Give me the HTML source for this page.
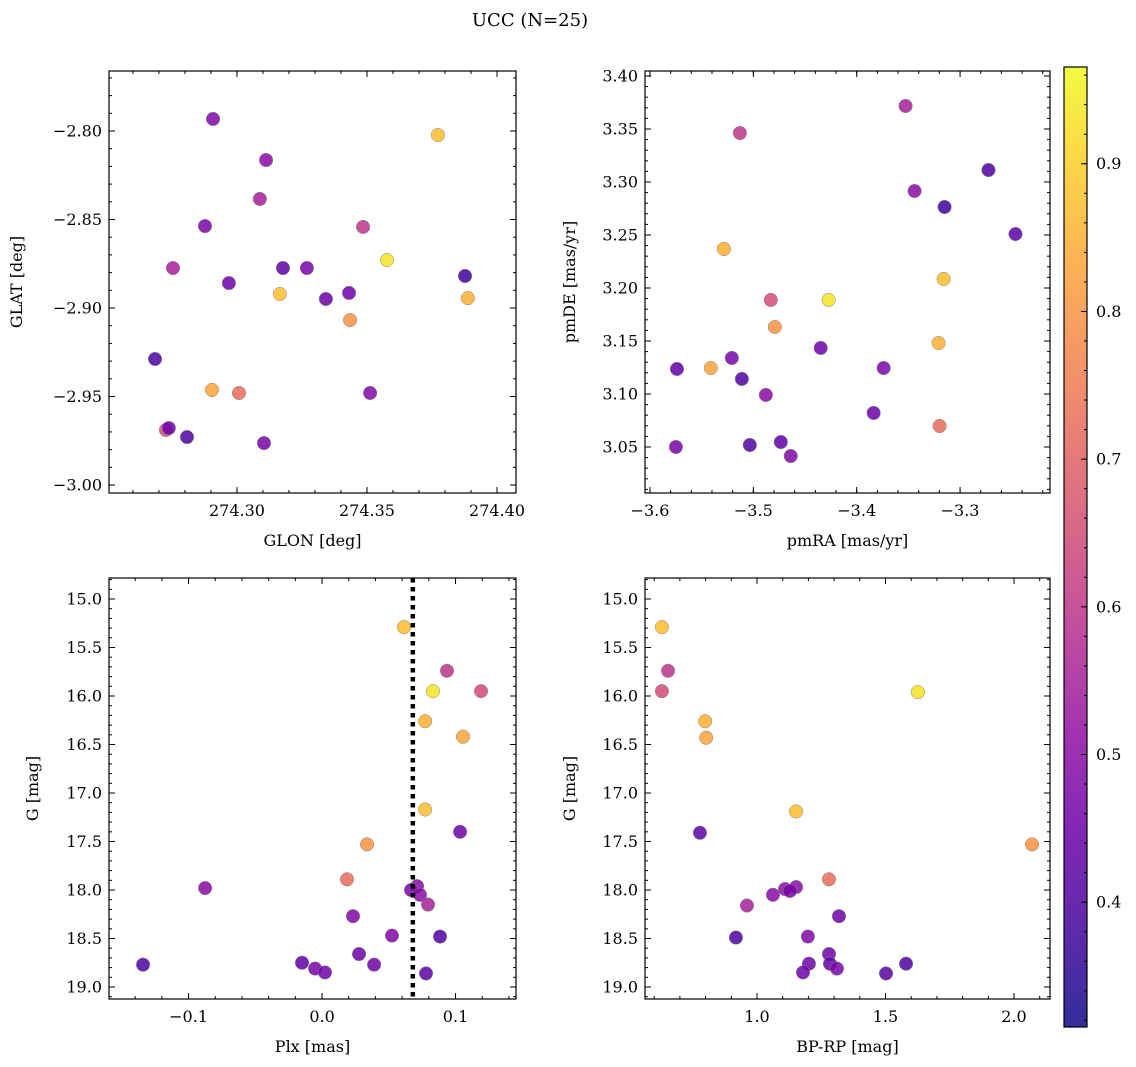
<!DOCTYPE html>
<html><head><meta charset="utf-8"><style>
html,body{margin:0;padding:0;background:#fff;}
svg{display:block;font-family:"DejaVu Serif","Liberation Serif",serif;}
</style></head><body>
<svg id="chart" width="1136" height="1067" viewBox="0 0 1136 1067" xmlns="http://www.w3.org/2000/svg">
<text x="530" y="26" font-size="18" text-anchor="middle">UCC (N=25)</text>
<g id="plots"></g>
</svg>
<script>
// Panel 1: GLON / GLAT
const glon=[274.2908,274.3112,274.3773,274.3088,274.2877,274.3485,274.3577,274.2754,274.3177,274.3269,274.3877,274.2969,274.3165,274.3342,274.3431,274.3888,274.3435,274.2685,274.2904,274.3008,274.3512,274.2727,274.2738,274.2808,274.3104];
const glat=[-2.7932,-2.8164,-2.8023,-2.8384,-2.8537,-2.8542,-2.8729,-2.8774,-2.8774,-2.8774,-2.8819,-2.8859,-2.8921,-2.8949,-2.8915,-2.8944,-2.9068,-2.9288,-2.9463,-2.9480,-2.9480,-2.9689,-2.9678,-2.9729,-2.9763];
const prob1=[0.48,0.50,0.87,0.55,0.47,0.60,0.93,0.55,0.43,0.47,0.38,0.45,0.87,0.45,0.45,0.85,0.80,0.40,0.83,0.72,0.48,0.65,0.45,0.40,0.47];
// Panel 2: pmRA / pmDE
const pmra=[-3.3527,-3.5130,-3.2725,-3.3440,-3.3150,-3.2464,-3.5285,-3.3159,-3.4271,-3.4831,-3.4792,-3.4348,-3.3208,-3.5208,-3.5739,-3.5411,-3.3739,-3.5111,-3.4879,-3.3836,-3.3198,-3.5749,-3.5034,-3.4734,-3.4638];
const pmde=[3.3717,3.3462,3.3113,3.2915,3.2764,3.2509,3.2368,3.2085,3.1887,3.1887,3.1632,3.1434,3.1481,3.1340,3.1236,3.1245,3.1245,3.1142,3.0991,3.0821,3.0698,3.0500,3.0519,3.0547,3.0415];
const prob2=[0.55,0.60,0.40,0.50,0.38,0.42,0.85,0.87,0.93,0.65,0.80,0.45,0.85,0.47,0.43,0.83,0.47,0.40,0.50,0.45,0.72,0.47,0.40,0.43,0.48];
// Panel 3: Plx / G
const plx=[0.0614,0.0936,0.0831,0.1191,0.0772,0.1056,0.0772,0.1034,0.0337,0.0187,-0.0876,0.0712,0.0667,0.0734,0.0794,0.0232,0.0884,0.0524,0.0277,0.0390,-0.0150,-0.0052,0.0022,-0.1341,0.0779];
const g3=[15.29,15.74,15.95,15.95,16.26,16.42,17.17,17.40,17.53,17.89,17.98,17.96,18.00,18.05,18.15,18.27,18.48,18.47,18.66,18.77,18.75,18.81,18.85,18.77,18.86];
const prob3=[0.87,0.60,0.93,0.65,0.85,0.83,0.87,0.45,0.80,0.72,0.50,0.50,0.47,0.50,0.55,0.48,0.40,0.48,0.45,0.45,0.43,0.47,0.45,0.40,0.42];
const plxLine=0.068;
// Panel 4: BP-RP / G
const bprp=[0.630,0.654,0.630,1.626,0.798,0.802,1.152,0.778,2.070,1.280,1.109,1.152,1.062,1.128,0.961,1.319,1.198,0.918,1.280,1.202,1.284,1.311,1.179,1.580,1.502];
const g4=[15.29,15.74,15.95,15.96,16.26,16.43,17.19,17.41,17.53,17.89,17.99,17.97,18.05,18.01,18.16,18.27,18.48,18.49,18.66,18.76,18.76,18.81,18.85,18.76,18.86];
const prob4=[0.87,0.60,0.65,0.93,0.85,0.83,0.87,0.43,0.80,0.72,0.50,0.50,0.50,0.47,0.55,0.45,0.48,0.40,0.45,0.45,0.43,0.47,0.45,0.40,0.42];
// Tick labels
const ticksGlon=[274.30,274.35,274.40];
const ticksGlat=[-2.80,-2.85,-2.90,-2.95,-3.00];
const ticksPmra=[-3.6,-3.5,-3.4,-3.3];
const ticksPmde=[3.05,3.10,3.15,3.20,3.25,3.30,3.35,3.40];
const ticksPlx=[-0.1,0.0,0.1];
const ticksG=[15.0,15.5,16.0,16.5,17.0,17.5,18.0,18.5,19.0];
const ticksBprp=[1.0,1.5,2.0];
const ticksCbar=[0.4,0.5,0.6,0.7,0.8,0.9];
const vmin=0.3155, vmax=0.9655;

const NS="http://www.w3.org/2000/svg";
const root=document.getElementById('plots');
function el(tag,attrs,parent){const e=document.createElementNS(NS,tag);for(const k in attrs)e.setAttribute(k,attrs[k]);(parent||root).appendChild(e);return e;}
const stops=["#0d0887","#41049d","#6a00a8","#8f0da4","#b12a90","#cc4778","#e16462","#f2844b","#fca636","#fcce25","#f0f921"];
function hex(h){return [1,3,5].map(i=>parseInt(h.substr(i,2),16));}
function plasma(t){t=Math.max(0,Math.min(1,t));const f=t*10,i=Math.min(9,Math.floor(f)),r=f-i;const a=hex(stops[i]),b=hex(stops[i+1]);return 'rgb('+a.map((v,k)=>Math.round(v+(b[k]-v)*r)).join(',')+')';}
function fmt(v,d){const s=v.toFixed(d);return s.replace('-','\u2212');}

function panel(name,box,xd,yd,xs,ys,probs,xt,yt,xdec,ydec,xminor,yminor,xlabel,ylabel,ylx){
  const g=el('g',{});
  
  
  const [L,T,R,B]=box;
  const sx=v=>L+(v-xd[0])/(xd[1]-xd[0])*(R-L);
  const sy=v=>T+(v-yd[0])/(yd[1]-yd[0])*(B-T);
  const tk=(x1,y1,x2,y2)=>el('line',{x1,y1,x2,y2,stroke:'#000','stroke-width':1},g);
  const lo=Math.min(...xd),hi=Math.max(...xd);
  for(let k=Math.ceil(lo/xminor-1e-6);k*xminor<=hi;k++){const x=sx(k*xminor);tk(x,B,x,B-3);tk(x,T,x,T+3);}
  const lo2=Math.min(...yd),hi2=Math.max(...yd);
  for(let k=Math.ceil(lo2/yminor-1e-6);k*yminor<=hi2;k++){const y=sy(k*yminor);tk(L,y,L+3,y);tk(R,y,R-3,y);}
  xt.forEach(v=>{const x=sx(v);tk(x,B,x,B-6);tk(x,T,x,T+6);
    const t=el('text',{x:x,y:B+23,'font-size':16,'text-anchor':'middle'},g);t.textContent=fmt(v,xdec);
    });
  yt.forEach(v=>{const y=sy(v);tk(L,y,L+6,y);tk(R,y,R-6,y);
    const t=el('text',{x:L-7,y:y+5.5,'font-size':16,'text-anchor':'end'},g);t.textContent=fmt(v,ydec);
    });
  const xl=el('text',{x:(L+R)/2,y:B+53,'font-size':16,'text-anchor':'middle'},g);xl.textContent=xlabel;
  
  const ym=(T+B)/2;
  const yl=el('text',{x:ylx,y:ym,'font-size':16,'text-anchor':'middle',transform:'rotate(-90 '+ylx+' '+ym+')'},g);yl.textContent=ylabel;
  
  xs.forEach((v,i)=>{const c=el('circle',{cx:sx(v),cy:sy(ys[i]),r:6.8,fill:plasma((probs[i]-vmin)/(vmax-vmin)),'fill-opacity':0.85,stroke:'#888','stroke-width':0.5},g);
    });
  const fr=el('rect',{x:L,y:T,width:R-L,height:B-T,fill:'none',stroke:'#000','stroke-width':1.2},g);
  
  return {g,sx,sy};
}
panel('glon-glat-panel',[109,71,516,493],[274.2508,274.4073],[-2.7661,-3.0045],glon,glat,prob1,ticksGlon,ticksGlat,2,2,0.01,0.01,'GLON [deg]','GLAT [deg]',22);
panel('pm-panel',[645,71,1050,493],[-3.6048,-3.2130],[3.4047,3.0066],pmra,pmde,prob2,ticksPmra,ticksPmde,1,2,0.02,0.01,'pmRA [mas/yr]','pmDE [mas/yr]',575);
const p3=panel('plx-g-panel',[109,578,516,999],[-0.1596,0.1453],[14.7835,19.1237],plx,g3,prob3,ticksPlx,ticksG,1,1,0.02,0.1,'Plx [mas]','G [mag]',38);
const vl=el('line',{x1:p3.sx(plxLine),x2:p3.sx(plxLine),y1:578,y2:999,stroke:'#000','stroke-width':4.5,'stroke-dasharray':'4.5,4.5'},p3.g);


panel('cmd-panel',[645,578,1050,999],[0.5642,2.140],[14.7835,19.1237],bprp,g4,prob4,ticksBprp,ticksG,1,1,0.1,0.1,'BP-RP [mag]','G [mag]',575);
// colorbar
const cb=el('g',{});


const defs=el('defs',{},cb);
const lg=el('linearGradient',{id:'cg',x1:0,y1:1,x2:0,y2:0},defs);
for(let i=0;i<=20;i++){const t=i/20;el('stop',{offset:t,'stop-color':plasma(t),'stop-opacity':0.85},lg);}
const CT=67,CB=1027,CL=1064,CR=1087;
el('rect',{x:CL,y:CT,width:CR-CL,height:CB-CT,fill:'url(#cg)',stroke:'#000','stroke-width':1.2},cb);
const cy=v=>CB-(v-vmin)/(vmax-vmin)*(CB-CT);
for(let k=16;k*0.02<=vmax;k++){const y=cy(k*0.02);el('line',{x1:CR,x2:CR-3,y1:y,y2:y,stroke:'#000'},cb);}
ticksCbar.forEach(v=>{const y=cy(v);el('line',{x1:CR,x2:CR-6,y1:y,y2:y,stroke:'#000'},cb);
  const t=el('text',{x:CR+9,y:y+5.5,'font-size':16},cb);t.textContent=v.toFixed(1);
  });
</script>
</body></html>
